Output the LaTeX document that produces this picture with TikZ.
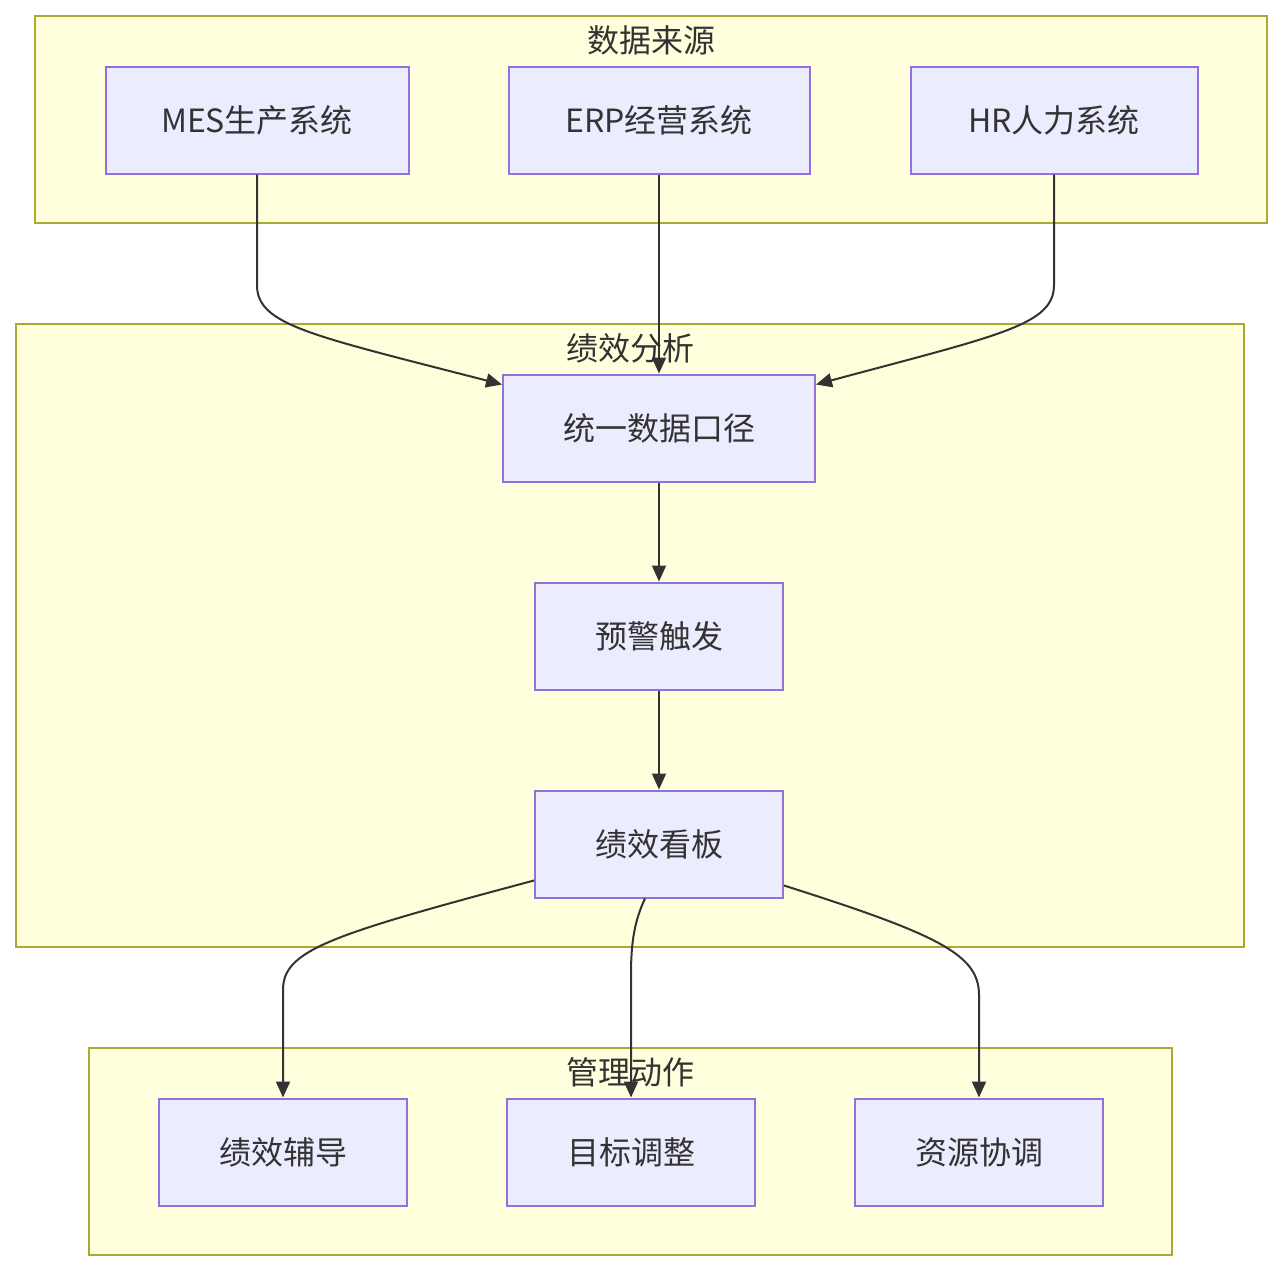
\documentclass[tikz,border=0pt]{standalone}
\usepackage{fontspec}
\setmainfont{Noto Sans CJK SC}
\usetikzlibrary{arrows.meta}
\definecolor{GroupFill}{HTML}{FFFFDE}
\definecolor{GroupLine}{HTML}{AAAA33}
\definecolor{BoxFill}{HTML}{ECECFF}
\definecolor{BoxLine}{HTML}{9370DB}
\definecolor{InkGray}{HTML}{333333}
\tikzset{
  groupbox/.style={draw=GroupLine,fill=GroupFill,line width=2pt},
  grouptitle/.style={text=InkGray,font=\fontsize{32}{38}\selectfont,inner sep=0pt},
  flowbox/.style={draw=BoxLine,fill=BoxFill,line width=2pt,text=InkGray,
    font=\fontsize{32}{38}\selectfont,minimum height=107pt,inner sep=0pt},
  flowline/.style={draw=InkGray,line width=2pt,-{Triangle[length=16pt,width=14pt]}}
}

\begin{document}
\begin{tikzpicture}[x=1pt,y=-1pt]
      \useasboundingbox (0,0) rectangle (1283,1272);
      % groups
      \draw[groupbox] (35,16) rectangle (1267,223);
      \draw[groupbox] (16,324) rectangle (1244,947);
      \draw[groupbox] (89,1048) rectangle (1172,1255);
      \node[grouptitle] (tsrc) at (651,40) {数据来源};
      \node[grouptitle] (tana) at (630,348) {绩效分析};
      \node[grouptitle] (tact) at (630,1072) {管理动作};
      % nodes
      \node[flowbox,minimum width=303pt] (mes) at (257,120) {MES生产系统};
      \node[flowbox,minimum width=301pt] (erp) at (659,120) {ERP经营系统};
      \node[flowbox,minimum width=287pt] (hr) at (1054,120) {HR人力系统};
      \node[flowbox,minimum width=312pt] (uni) at (659,428) {统一数据口径};
      \node[flowbox,minimum width=248pt] (warn) at (659,636) {预警触发};
      \node[flowbox,minimum width=248pt] (board) at (659,844) {绩效看板};
      \node[flowbox,minimum width=248pt] (coach) at (283,1152) {绩效辅导};
      \node[flowbox,minimum width=248pt] (goal) at (631,1152) {目标调整};
      \node[flowbox,minimum width=248pt] (res) at (979,1152) {资源协调};
      % edges
      \draw[flowline] (mes.south) -- (257,285) .. controls (257,325) and (310,335) .. ([yshift=-11pt]uni.north west);
      \draw[flowline] (erp.south) -- (uni.north);
      \draw[flowline] (hr.south) -- (1054,285) .. controls (1054,325) and (1000,335) .. ([yshift=-11pt]uni.north east);
      \draw[flowline] (uni.south) -- (warn.north);
      \draw[flowline] (warn.south) -- (board.north);
      \draw[flowline] ([yshift=18pt]board.south west) .. controls (330,935) and (283,950) .. (283,990) -- (coach.north);
      \draw[flowline] ([xshift=-14pt]board.south) .. controls (635,920) and (631,940) .. (631,975) -- (goal.north);
      \draw[flowline] ([yshift=13pt]board.south east) .. controls (940,935) and (979,955) .. (979,995) -- (res.north);
\end{tikzpicture}
\end{document}
